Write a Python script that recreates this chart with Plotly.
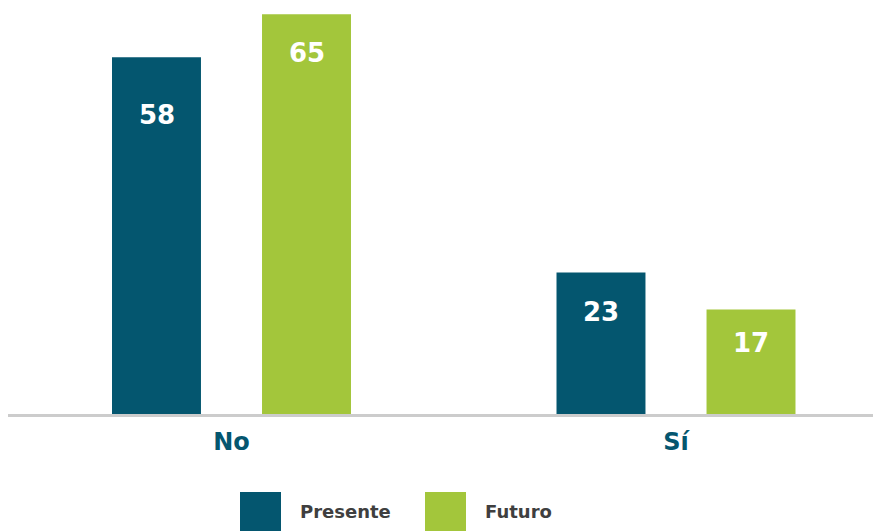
import plotly.graph_objects as go

categories = ["No", "Sí"]
presente = [58, 23]
futuro = [65, 17]
series_names = ["Presente", "Futuro"]

TEAL = "#04566f"
GREEN = "#a3c63b"
FONT = "DejaVu Sans"

# page body has an 8px margin, so the figure is sized to fit the window
W, H = 873, 523
L, T, B = 0, 0, 117
plot_w, plot_h = W - L, H - T - B

fig = go.Figure()
for name, vals, col in zip(series_names, [presente, futuro], [TEAL, GREEN]):
    fig.add_trace(go.Bar(
        name=name, x=categories, y=vals, marker=dict(color=col, line=dict(width=0)),
        showlegend=False, hoverinfo="x+y+name",
    ))

# value labels inside the bars, slightly below the top
label_drop = {("Presente", 0): -58, ("Futuro", 0): -39,
              ("Presente", 1): -39, ("Futuro", 1): -34}
for k, (name, vals) in enumerate(zip(series_names, [presente, futuro])):
    for i, v in enumerate(vals):
        fig.add_annotation(
            x=categories[i], y=v, xref="x", yref="y", text=f"<b>{v}</b>",
            showarrow=False, xshift=(-75 if k == 0 else 75),
            yshift=label_drop[(name, i)],
            font=dict(family=FONT, size=26, color="white"),
        )

# custom legend with big squares (positions in figure pixels)
def px_x(p):
    return (p - L) / plot_w

def px_y(p):
    return (T + plot_h - p) / plot_h

for name, col, x0 in zip(series_names, [TEAL, GREEN], [232, 417]):
    fig.add_shape(type="rect", xref="paper", yref="paper",
                  x0=px_x(x0), x1=px_x(x0 + 41), y0=px_y(484), y1=px_y(523),
                  fillcolor=col, line=dict(width=0))
    fig.add_annotation(x=px_x(x0 + 58), y=px_y(503), xref="paper", yref="paper",
                       text=f"<b>{name}</b>", showarrow=False, xanchor="left",
                       yanchor="middle",
                       font=dict(family=FONT, size=18, color="#3f3f3f"))

fig.update_layout(
    width=W, height=H,
    margin=dict(l=L, r=0, t=T, b=B),
    paper_bgcolor="white", plot_bgcolor="white",
    barmode="group", bargap=0.325, bargroupgap=0.407,
    font=dict(family=FONT),
    xaxis=dict(
        range=[-0.5028, 1.4612], showline=True, linecolor="#cccccc", linewidth=3,
        showgrid=False, zeroline=False, ticks="",
        tickfont=dict(family=FONT, size=24, color=TEAL, weight="bold"),
        ticklabelstandoff=4,
    ),
    yaxis=dict(range=[0, 66.0], visible=False, showgrid=False, zeroline=False),
)

fig.write_html("out.html")
